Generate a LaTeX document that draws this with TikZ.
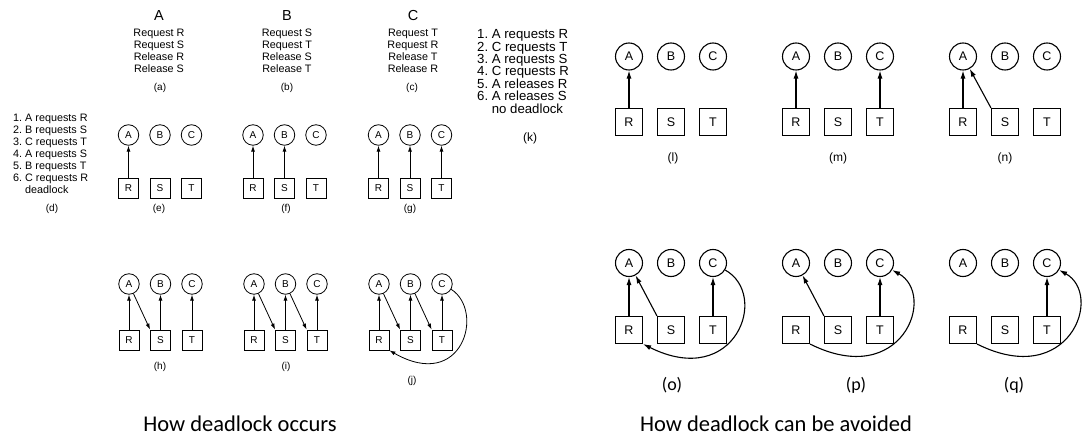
\documentclass[tikz,border=0pt]{standalone}
\usepackage{fontspec}
\setmainfont{Liberation Sans}
\newfontfamily\capfont{Carlito}
\usetikzlibrary{arrows.meta}
\frenchspacing
\newcommand\mkgroup[6]{%
 \node[proc#6] (#1A) at (#2,#4) {A};
 \node[proc#6] (#1B) at ({#2+#3},#4) {B};
 \node[proc#6] (#1C) at ({#2+2*#3},#4) {C};
 \node[res#6] (#1R) at (#2,#5) {R};
 \node[res#6] (#1S) at ({#2+#3},#5) {S};
 \node[res#6] (#1T) at ({#2+2*#3},#5) {T};}
\begin{document}
\frenchspacing
\begin{tikzpicture}[x=1pt,y=1pt,
 procS/.style={circle,draw,line width=0.8pt,minimum size=20.5pt,inner sep=0pt,font=\fontsize{10}{12}\selectfont},
 resS/.style={rectangle,draw,line width=0.8pt,minimum size=20pt,inner sep=0pt,font=\fontsize{10}{12}\selectfont},
 procB/.style={circle,draw,line width=1.1pt,minimum size=27pt,inner sep=0pt,font=\fontsize{12.5}{14}\selectfont},
 resB/.style={rectangle,draw,line width=1.1pt,minimum size=27pt,inner sep=0pt,font=\fontsize{12.5}{14}\selectfont},
 arrS/.style={line width=0.8pt,-{Latex[length=6pt,width=4pt]}},
 arrB/.style={line width=1.1pt,-{Latex[length=8pt,width=5pt]}},
 headtxt/.style={font=\fontsize{14.5}{16}\selectfont,inner sep=0pt},
 reqtxt/.style={font=\fontsize{10.8}{12}\selectfont,align=center,inner sep=0pt},
 labtxt/.style={font=\fontsize{10}{12}\selectfont,inner sep=0pt},
 labmid/.style={font=\fontsize{12}{14}\selectfont,inner sep=0pt},
 labcal/.style={font=\capfont\fontsize{18}{20}\selectfont,inner sep=0pt},
 captxt/.style={font=\capfont\fontsize{22.5}{26}\selectfont,inner sep=0pt},
 ]
\useasboundingbox (0,0) rectangle (1084,-438);
% top: processes
\node[headtxt] (headA) at (159,-16) {A};
\node[headtxt] (headB) at (287,-16) {B};
\node[headtxt] (headC) at (413,-16) {C};
\node[reqtxt] (listA) at (159,-51) {Request R\\Request S\\Release R\\Release S};
\node[reqtxt] (listB) at (287,-51) {Request S\\Request T\\Release S\\Release T};
\node[reqtxt] (listC) at (413,-51) {Request T\\Request R\\Release T\\Release R};
\node[labtxt] (labA) at (160,-88) {(a)};
\node[labtxt] (labB) at (287,-88) {(b)};
\node[labtxt] (labC) at (412,-88) {(c)};
% (d)
\node[anchor=west,align=left,inner sep=0pt,font=\fontsize{10.8}{12}\selectfont] (listD) at (13,-154)
 {1. A requests R\\2. B requests S\\3. C requests T\\4. A requests S\\5. B requests T\\6. C requests R\\\phantom{1. }deadlock};
\node[labtxt] (labD) at (52,-209) {(d)};
% (k)
\node[anchor=west,align=left,inner sep=0pt,font=\fontsize{13.2}{12.2}\selectfont] (listK) at (477,-71.5)
 {1. A requests R\\2. C requests T\\3. A requests S\\4. C requests R\\5. A releases R\\6. A releases S\\\phantom{6. }no deadlock};
\node[labmid] (labK) at (530,-138) {(k)};
% groups
\mkgroup{e}{128.5}{31.5}{-135}{-188}{S}
\mkgroup{f}{253}{31.5}{-135}{-188}{S}
\mkgroup{g}{378.5}{31.5}{-135}{-188}{S}
\mkgroup{h}{129}{31.5}{-284}{-340}{S}
\mkgroup{i}{254}{31.5}{-284}{-340}{S}
\mkgroup{j}{379}{31.5}{-284}{-340}{S}
\mkgroup{l}{629}{42}{-56.5}{-122}{B}
\mkgroup{m}{796}{42}{-56.5}{-122}{B}
\mkgroup{n}{963}{42}{-56.5}{-122}{B}
\mkgroup{o}{629}{42}{-263}{-330}{B}
\mkgroup{p}{796}{42}{-263}{-330}{B}
\mkgroup{q}{963}{42}{-263}{-330}{B}
% labels
\node[labtxt] (labE) at (159,-209) {(e)};
\node[labtxt] (labF) at (286,-209) {(f)};
\node[labtxt] (labG) at (410,-209) {(g)};
\node[labtxt] (labH) at (160,-367) {(h)};
\node[labtxt] (labI) at (286,-367) {(i)};
\node[labtxt] (labJ) at (412,-381) {(j)};
\node[labmid] (labL) at (673,-158) {(l)};
\node[labmid] (labM) at (838,-158) {(m)};
\node[labmid] (labN) at (1005,-158) {(n)};
\node[labcal] (labO) at (672,-385) {(o)};
\node[labcal] (labP) at (856,-385) {(p)};
\node[labcal] (labQ) at (1014,-385) {(q)};
% captions
\node[captxt] (capL) at (240,-424) {How deadlock occurs};
\node[captxt] (capR) at (776,-424) {How deadlock can be avoided};
% arrows left
\draw[arrS] (eR) -- (eA);
\draw[arrS] (fR) -- (fA);
\draw[arrS] (fS) -- (fB);
\draw[arrS] (gR) -- (gA);
\draw[arrS] (gS) -- (gB);
\draw[arrS] (gT) -- (gC);
\draw[arrS] (hR) -- (hA);
\draw[arrS] (hA) -- (hS.north west);
\draw[arrS] (hS) -- (hB);
\draw[arrS] (hT) -- (hC);
\draw[arrS] (iR) -- (iA);
\draw[arrS] (iA) -- (iS.north west);
\draw[arrS] (iS) -- (iB);
\draw[arrS] (iB) -- (iT.north west);
\draw[arrS] (iT) -- (iC);
\draw[arrS] (jR) -- (jA);
\draw[arrS] (jA) -- (jS.north west);
\draw[arrS] (jS) -- (jB);
\draw[arrS] (jB) -- (jT.north west);
\draw[arrS] (jT) -- (jC);
\draw[arrS] (jC.-30) .. controls +(34,-22) and +(73,-42) .. (jR.south east);
% arrows right
\draw[arrB] (lR) -- (lA);
\draw[arrB] (mR) -- (mA);
\draw[arrB] (mT) -- (mC);
\draw[arrB] (nR) -- (nA);
\draw[arrB] (nS.north west) -- (nA);
\draw[arrB] (oR) -- (oA);
\draw[arrB] (oS.north west) -- (oA);
\draw[arrB] (oT) -- (oC);
\draw[arrB] (oC.-30) .. controls +(45,-25) and +(92,-46) .. (oR.south east);
\draw[arrB] (pS.north west) -- (pA);
\draw[arrB] (pT) -- (pC);
\draw[arrB] (pR.south east) .. controls +(92,-46) and +(45,-25) .. (pC.-30);
\draw[arrB] (qT) -- (qC);
\draw[arrB] (qR.south east) .. controls +(92,-46) and +(45,-25) .. (qC.-30);
\end{tikzpicture}
\end{document}
